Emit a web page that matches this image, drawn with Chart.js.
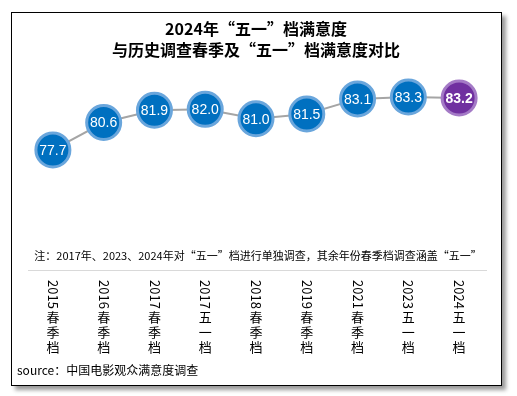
<!DOCTYPE html>
<html>
<head>
<meta charset="utf-8">
<script src="https://cdn.jsdelivr.net/npm/chart.js@4"></script>
<style>
  html, body { margin: 0; padding: 0; background: #fff; width: 517px; height: 396px; overflow: hidden; }
  #frame { position: absolute; left: 11px; top: 12px; width: 489px; height: 372px; border: 1px solid #000; box-shadow: 4px 4px 4px #9a9a9a; background: #fff; }
  #c { position: absolute; left: 0; top: 0; }
</style>
</head>
<body>
<div id="frame"></div>
<canvas id="c" width="517" height="396"></canvas>
<script>
const categories = ["2015春季档", "2016春季档", "2017春季档", "2017五一档", "2018春季档", "2019春季档", "2021春季档", "2023五一档", "2024五一档"];
const satisfaction = [77.7, 80.6, 81.9, 82.0, 81.0, 81.5, 83.1, 83.3, 83.2];
const titleLines = ["2024年“五一”档满意度", "与历史调查春季及“五一”档满意度对比"];
const noteText = "注：2017年、2023、2024年对“五一”档进行单独调查，其余年份春季档调查涵盖“五一”";
const sourceText = "source：中国电影观众满意度调查";

const CJK = '"Noto Sans CJK SC", "Microsoft YaHei", sans-serif';
const lastIdx = satisfaction.length - 1;
const fills = satisfaction.map((v, i) => i === lastIdx ? '#7030A0' : '#0070C0');
const borders = satisfaction.map((v, i) => i === lastIdx ? '#A47AC6' : '#6AA6DC');

const overlay = {
  id: 'overlay',
  afterDatasetsDraw(chart) {
    const ctx = chart.ctx;
    const meta = chart.getDatasetMeta(0);
    ctx.save();
    ctx.textAlign = 'center';
    ctx.textBaseline = 'middle';
    meta.data.forEach((pt, i) => {
      ctx.fillStyle = '#fff';
      ctx.font = (i === lastIdx ? 'bold ' : '') + '14px "Liberation Sans", Arial, sans-serif';
      ctx.fillText(satisfaction[i].toFixed(1), pt.x, pt.y + 1);
    });
    ctx.restore();
  },
  afterDraw(chart) {
    const ctx = chart.ctx;
    const xs = chart.scales.x;
    const area = chart.chartArea;
    ctx.save();
    // axis line
    ctx.strokeStyle = '#D9D9D9';
    ctx.lineWidth = 1;
    ctx.beginPath();
    ctx.moveTo(28, area.bottom + 0.5);
    ctx.lineTo(487, area.bottom + 0.5);
    ctx.stroke();
    // note
    ctx.fillStyle = '#000';
    ctx.font = '11px ' + CJK;
    ctx.textAlign = 'center';
    ctx.textBaseline = 'middle';
    ctx.fillText(noteText, 258, 256);
    // source
    ctx.textAlign = 'left';
    ctx.font = '12px ' + CJK;
    ctx.fillText(sourceText, 17, 370);
    // vertical category labels
    categories.forEach((lab, i) => {
      const x = xs.getPixelForValue(i);
      const m = lab.match(/^(\d+)(.*)$/);
      const digits = m[1], rest = m[2];
      let y = 280;
      ctx.font = '13px ' + CJK;
      ctx.save();
      ctx.translate(x, y);
      ctx.rotate(Math.PI / 2);
      ctx.textAlign = 'left';
      ctx.textBaseline = 'middle';
      ctx.fillText(digits, 0, 0);
      const w = ctx.measureText(digits).width;
      ctx.restore();
      y += w + 2;
      ctx.textAlign = 'center';
      ctx.textBaseline = 'top';
      for (const ch of rest) {
        ctx.fillText(ch, x, y);
        y += 15;
      }
    });
    ctx.restore();
  }
};

new Chart(document.getElementById('c'), {
  type: 'line',
  data: {
    labels: categories,
    datasets: [{
      data: satisfaction,
      borderColor: '#A5A5A5',
      borderWidth: 2,
      pointRadius: 17,
      pointHoverRadius: 17,
      pointBorderWidth: 3,
      pointBackgroundColor: fills,
      pointBorderColor: borders,
      clip: false,
      tension: 0
    }]
  },
  options: {
    responsive: false,
    animation: false,
    events: [],
    layout: { padding: { left: 27.5, right: 32.5, top: 0, bottom: 126 } },
    plugins: {
      legend: { display: false },
      tooltip: { enabled: false },
      title: {
        display: true,
        text: titleLines,
        color: '#000',
        font: { family: CJK, size: 16, weight: 'bold', lineHeight: 1.3125 },
        padding: { top: 18, bottom: 11.5 }
      }
    },
    scales: {
      x: { display: false, offset: true },
      y: { display: false, min: 65, max: 86 }
    }
  },
  plugins: [overlay]
});
</script>
</body>
</html>
